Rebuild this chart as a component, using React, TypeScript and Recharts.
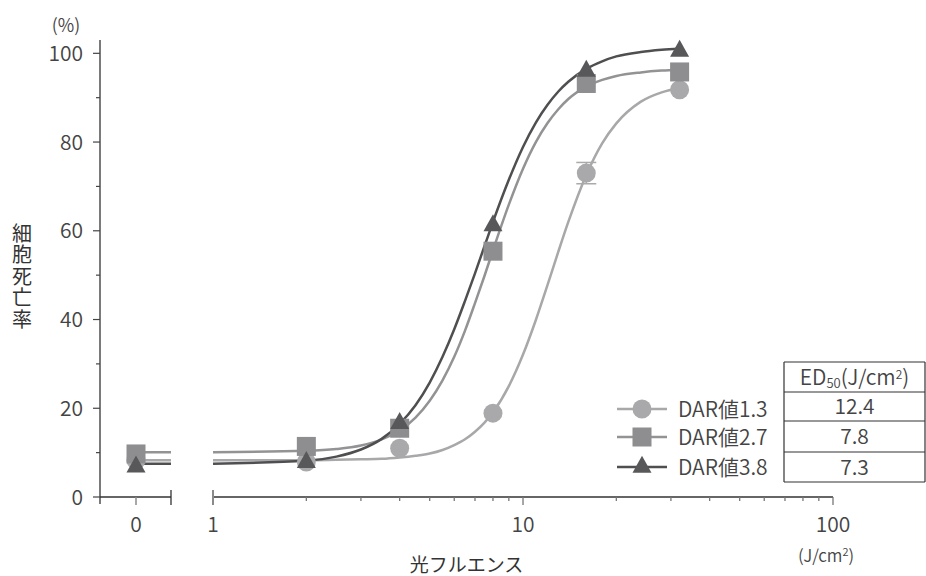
import React from 'react';
import {
  ComposedChart,
  Line,
  Scatter,
  XAxis,
  YAxis,
  ReferenceLine,
  ErrorBar,
  Legend,
} from 'recharts';

// ---------- data ----------
const SERIES_NAMES = ['DAR値1.3', 'DAR値2.7', 'DAR値3.8'];
const ED50_VALUES = ['12.4', '7.8', '7.3'];

// measured points (fluence J/cm², cell death %)
const FLUENCE = [2, 4, 8, 16, 32];
const DAR13_VALUES = [7.9, 11.0, 18.9, 73.0, 91.8];
const DAR13_ERRORS = [0, 0, 0, 2.4, 0];
const DAR27_VALUES = [11.4, 15.5, 55.4, 93.2, 95.8];
const DAR38_VALUES = [7.8, 16.6, 61.2, 96.0, 100.5];

// untreated control (fluence 0) – one value per series
const ZERO_DOSE_VALUES = [8.3, 9.7, 6.8];

// fitted curves
const CURVE_FLUENCE = [1, 2, 2.5, 3, 3.5, 4, 4.5, 5, 5.5, 6, 6.5, 7, 7.5, 8, 9, 10, 11, 12, 13, 14, 16, 18, 20, 24, 28, 32];
const DAR13_CURVE = [8.3, 8.3, 8.4, 8.5, 8.6, 8.9, 9.3, 9.8, 10.6, 11.7, 13.0, 14.7, 16.7, 19.1, 25.0, 32.1, 39.9, 47.8, 55.3, 62.0, 72.6, 79.7, 84.2, 89.1, 91.2, 92.2];
const DAR27_CURVE = [10.1, 10.4, 10.8, 11.6, 13.0, 15.0, 17.9, 21.7, 26.3, 31.6, 37.5, 43.7, 49.7, 55.6, 65.9, 74.0, 80.0, 84.3, 87.4, 89.7, 92.5, 94.0, 94.9, 95.7, 96.1, 96.3];
const DAR38_CURVE = [7.5, 8.2, 9.1, 10.7, 13.1, 16.5, 20.7, 25.8, 31.6, 37.8, 44.2, 50.4, 56.4, 62.0, 71.5, 78.9, 84.4, 88.4, 91.4, 93.6, 96.5, 98.2, 99.3, 100.3, 100.8, 101.1];

// axis ticks
const Y_TICKS = [0, 10, 20, 30, 40, 50, 60, 70, 80, 90, 100];
const LOG_TICKS = [1, 2, 3, 4, 5, 6, 7, 8, 9, 10, 20, 30, 40, 50, 60, 70, 80, 90, 100];
const LOG_LABELS = [1, 10, 100];

// ---------- axis layout (broken x axis: "0" section + log section) ----------
const LOG_DOMAIN: [number, number] = [0.4319, 100];
const ZERO_DOMAIN: [number, number] = [-1, 19.36];
const ZERO_SEG_END = 0.972;
const ZERO_TICKS = [ZERO_DOMAIN[0], 0, ZERO_SEG_END];

const COLORS = ['#a9a9ab', '#8e8e90', '#58585a'];
const CURVE_COLORS = ['#a8a8aa', '#939395', '#4f4f51'];
const KINDS = ['circle', 'square', 'triangle'];
const FONT = '"Noto Sans CJK JP", "Noto Sans", sans-serif';
const TEXT = '#444';
const W = 350;

const pts = (vals: number[], errs?: number[]) =>
  FLUENCE.map((x, i) => ({ x, y: vals[i], err: errs ? errs[i] : 0 }));
const curve = (vals: number[]) => CURVE_FLUENCE.map((x, i) => ({ x, y: vals[i] }));
const zeroLine = (vals: number[]) => [
  { x: 0, y: vals[0] },
  { x: ZERO_SEG_END, y: vals[0] },
];

const POINTS = [pts(DAR13_VALUES, DAR13_ERRORS), pts(DAR27_VALUES), pts(DAR38_VALUES)];
const CURVES = [curve(DAR13_CURVE), curve(DAR27_CURVE), curve(DAR38_CURVE)];
const ZERO_LINES = [zeroLine(DAR13_CURVE), zeroLine(DAR27_CURVE), zeroLine(DAR38_CURVE)];
const ZERO_POINTS = ZERO_DOSE_VALUES.map((y) => [{ x: 0, y }]);

// ---------- markers ----------
const Marker = ({ kind, cx, cy, fill }: any) => {
  if (kind === 'circle') return <circle cx={cx} cy={cy} r={9.5} fill={fill} />;
  if (kind === 'square') return <rect x={cx - 9.5} y={cy - 9.5} width={19} height={19} fill={fill} />;
  return <path d={`M${cx},${cy - 11.3}L${cx + 9.5},${cy + 5.7}L${cx - 9.5},${cy + 5.7}Z`} fill={fill} />;
};

// ---------- ticks ----------
const YTick = (props: any) => {
  const { x, y, payload } = props;
  const v = payload.value;
  const major = v % 20 === 0;
  return (
    <g>
      <line x1={x - (major ? 7 : 4)} x2={x} y1={y} y2={y} stroke="#444" strokeWidth={1.2} />
      {major && (
        <text x={x - 17} y={y} dy="0.36em" textAnchor="end" fontSize={21} fontFamily={FONT} fontWeight={W} fill={TEXT}>
          {v}
        </text>
      )}
    </g>
  );
};

const LogTick = (props: any) => {
  const { x, y, payload } = props;
  const v = payload.value;
  const labeled = LOG_LABELS.includes(v);
  const isStart = v === LOG_LABELS[0];
  return (
    <g>
      <line
        x1={x}
        x2={x}
        y1={isStart ? y - 7 : y}
        y2={y + (labeled ? 8 : 4)}
        stroke={isStart ? '#8a8a8a' : '#777'}
        strokeWidth={isStart ? 2 : 1.3}
      />
      {labeled && (
        <text x={x} y={y + 27} dy="0.36em" textAnchor="middle" fontSize={21} fontFamily={FONT} fontWeight={W} fill={TEXT}>
          {v}
        </text>
      )}
    </g>
  );
};

const ZeroTick = (props: any) => {
  const { x, payload } = props;
  const y = 497;
  const v = payload.value;
  if (v === ZERO_DOMAIN[0]) return <line x1={x} x2={x} y1={y} y2={y + 7} stroke="#333" strokeWidth={1.3} />;
  if (v === ZERO_SEG_END) return <line x1={x} x2={x} y1={y - 7} y2={y + 8} stroke="#333" strokeWidth={1.3} />;
  return (
    <g>
      <line x1={x} x2={x} y1={y} y2={y + 8} stroke="#8a8a8a" strokeWidth={1.5} />
      <text x={x} y={y + 27} dy="0.36em" textAnchor="middle" fontSize={21} fontFamily={FONT} fontWeight={W} fill={TEXT}>
        {v}
      </text>
    </g>
  );
};

// ---------- axis titles ----------
const YTitle = (props: any) => {
  const vb = props.viewBox || { x: 40, y: 40, width: 60, height: 457 };
  return (
    <g>
      <text x={vb.x + 26} y={vb.y - 14} dy="0.36em" textAnchor="middle" fontSize={18} fontFamily={FONT} fontWeight={W} fill={TEXT}>
        (%)
      </text>
      <text
        x={vb.x - 18}
        y={vb.y + 237}
        textAnchor="middle"
        fontSize={20}
        fontFamily={FONT}
        fill="#333"
        style={{ writingMode: 'vertical-rl', letterSpacing: 1.5 }}
      >
        細胞死亡率
      </text>
    </g>
  );
};

const XTitle = (props: any) => {
  const vb = props.viewBox || { x: 100, y: 497, width: 733, height: 1 };
  return (
    <g>
      <text x={vb.x + vb.width / 2} y={vb.y + 75} textAnchor="middle" fontSize={19} fontFamily={FONT} fill="#333">
        光フルエンス
      </text>
      <text x={vb.x + vb.width - 7} y={vb.y + 59} dy="0.36em" textAnchor="middle" fontSize={17} fontFamily={FONT} fontWeight={W} fill={TEXT}>
        (J/cm<tspan dy={-6} fontSize={11}>2</tspan>
        <tspan dy={6}>)</tspan>
      </text>
    </g>
  );
};

// ---------- legend with ED50 table ----------
const LegendBlock = () => {
  const rowsY = [54, 82, 112];
  const lines = [7, 37, 66, 97, 127];
  const tl = 184;
  const tr = 325;
  const cx = (tl + tr) / 2;
  return (
    <svg width={326} height={140} style={{ display: 'block', overflow: 'visible' }}>
      {SERIES_NAMES.map((name, i) => (
        <g key={name}>
          <line x1={17} x2={67} y1={rowsY[i]} y2={rowsY[i]} stroke={CURVE_COLORS[i]} strokeWidth={2.5} />
          <Marker kind={KINDS[i]} cx={42} cy={rowsY[i]} fill={COLORS[i]} />
          <text x={78} y={rowsY[i]} dy="0.36em" fontSize={21} fontFamily={FONT} fontWeight={W} fill={TEXT}>
            {name}
          </text>
        </g>
      ))}
      {lines.map((ly) => (
        <line key={ly} x1={tl} x2={tr} y1={ly} y2={ly} stroke="#333" strokeWidth={1.2} />
      ))}
      <line x1={tl} x2={tl} y1={lines[0]} y2={lines[4]} stroke="#333" strokeWidth={1.2} />
      <line x1={tr} x2={tr} y1={lines[0]} y2={lines[4]} stroke="#333" strokeWidth={1.2} />
      <text x={cx} y={(lines[0] + lines[1]) / 2} dy="0.36em" textAnchor="middle" fontSize={21} fontFamily={FONT} fontWeight={W} fill={TEXT}>
        ED<tspan fontSize={13} dy={3}>50</tspan>
        <tspan dy={-3}>(J/cm</tspan>
        <tspan dy={-6} fontSize={12}>2</tspan>
        <tspan dy={6}>)</tspan>
      </text>
      {ED50_VALUES.map((v, i) => (
        <text key={v} x={cx} y={(lines[i + 1] + lines[i + 2]) / 2} dy="0.36em" textAnchor="middle" fontSize={21} fontFamily={FONT} fontWeight={W} fill={TEXT}>
          {v}
        </text>
      ))}
    </svg>
  );
};

export default function App() {
  return (
    <div style={{ position: 'fixed', left: 0, top: 0, width: 926, height: 576, overflow: 'hidden', background: '#fff' }}>
      <ComposedChart width={926} height={576} margin={{ top: 40, right: 93, bottom: 77, left: 40 }}>
        <XAxis
          xAxisId="log"
          type="number"
          dataKey="x"
          scale="log"
          domain={LOG_DOMAIN}
          ticks={LOG_TICKS}
          interval={0}
          height={1}
          axisLine={false}
          tickLine={false}
          tickSize={0}
          tickMargin={0}
          tick={<LogTick />}
          label={{ content: XTitle }}
        />
        <XAxis
          xAxisId="zero"
          type="number"
          dataKey="x"
          domain={ZERO_DOMAIN}
          ticks={ZERO_TICKS}
          interval={0}
          height={1}
          axisLine={false}
          tickLine={false}
          tickSize={0}
          tickMargin={0}
          tick={<ZeroTick />}
        />
        <YAxis
          type="number"
          domain={[0, 103]}
          ticks={Y_TICKS}
          interval={0}
          width={60}
          axisLine={{ stroke: '#333', strokeWidth: 1.3 }}
          tickLine={false}
          tickSize={0}
          tickMargin={0}
          tick={<YTick />}
          label={{ content: YTitle }}
        />
        <ReferenceLine xAxisId="zero" segment={[{ x: ZERO_DOMAIN[0], y: 0 }, { x: ZERO_SEG_END, y: 0 }]} stroke="#333" strokeWidth={1.3} />
        <ReferenceLine xAxisId="log" segment={[{ x: 1, y: 0 }, { x: 100, y: 0 }]} stroke="#333" strokeWidth={1.3} />

        {ZERO_LINES.map((d, i) => (
          <Line key={`zl${i}`} xAxisId="zero" data={d} dataKey="y" type="linear" stroke={CURVE_COLORS[i]} strokeWidth={2.5} dot={false} activeDot={false} isAnimationActive={false} legendType="none" />
        ))}
        {CURVES.map((d, i) => (
          <Line key={`c${i}`} xAxisId="log" data={d} dataKey="y" type="monotone" stroke={CURVE_COLORS[i]} strokeWidth={2.5} dot={false} activeDot={false} isAnimationActive={false} legendType="none" />
        ))}
        {ZERO_POINTS.map((d, i) => (
          <Scatter
            key={`zp${i}`}
            xAxisId="zero"
            data={d}
            dataKey="y"
            isAnimationActive={false}
            legendType="none"
            shape={(p: any) => <Marker kind={KINDS[i]} cx={p.cx} cy={p.cy} fill={COLORS[i]} />}
          />
        ))}
        {POINTS.map((d, i) => (
          <Scatter
            key={`p${i}`}
            name={SERIES_NAMES[i]}
            xAxisId="log"
            data={d}
            dataKey="y"
            isAnimationActive={false}
            shape={(p: any) => <Marker kind={KINDS[i]} cx={p.cx} cy={p.cy} fill={COLORS[i]} />}
          >
            {i === 0 && <ErrorBar dataKey="err" direction="y" width={10} stroke="#aaa" strokeWidth={1.5} />}
          </Scatter>
        ))}
        <Legend
          layout="vertical"
          align="center"
          verticalAlign="middle"
          wrapperStyle={{ position: 'absolute', left: 600, top: 355, width: 326, height: 140 }}
          content={() => <LegendBlock />}
        />
      </ComposedChart>
    </div>
  );
}
